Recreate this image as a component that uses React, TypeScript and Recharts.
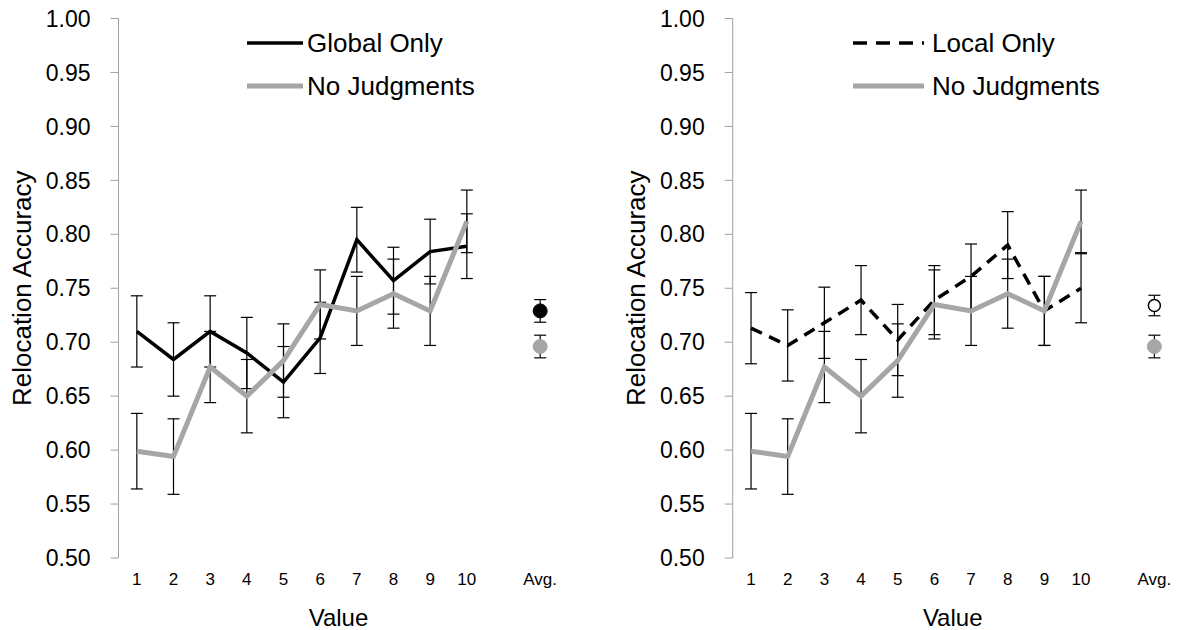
import React from 'react';
import { LineChart, Line, XAxis, YAxis, ErrorBar, Legend } from 'recharts';

const categories = ['1', '2', '3', '4', '5', '6', '7', '8', '9', '10', '', 'Avg.'];
const yTicks = [0.5, 0.55, 0.6, 0.65, 0.7, 0.75, 0.8, 0.85, 0.9, 0.95, 1.0];

const globalOnly = [0.71, 0.684, 0.71, 0.69, 0.663, 0.704, 0.795, 0.757, 0.784, 0.789];
const globalOnlyErr = [0.033, 0.034, 0.033, 0.033, 0.033, 0.033, 0.03, 0.031, 0.03, 0.03];
const globalOnlyAvg = 0.729;
const globalOnlyAvgErr = 0.0105;

const localOnly = [0.713, 0.697, 0.718, 0.739, 0.702, 0.739, 0.761, 0.79, 0.729, 0.75];
const localOnlyErr = [0.033, 0.033, 0.033, 0.032, 0.033, 0.032, 0.03, 0.031, 0.032, 0.032];
const localOnlyAvg = 0.734;
const localOnlyAvgErr = 0.0095;

const noJudgments = [0.599, 0.594, 0.677, 0.65, 0.683, 0.735, 0.729, 0.745, 0.729, 0.812];
const noJudgmentsErr = [0.035, 0.035, 0.033, 0.034, 0.034, 0.032, 0.032, 0.032, 0.032, 0.029];
const noJudgmentsAvg = 0.696;
const noJudgmentsAvgErr = 0.0105;

const FONT = '"Liberation Sans", Arial, sans-serif';
const AXIS = '#a0a0a0';
const GRAY = '#a6a6a6';

function buildRows(cond: number[], condErr: number[], condAvg: number, condAvgErr: number) {
  return categories.map((c, i) => ({
    x: i + 0.5,
    cond: i < cond.length ? cond[i] : null,
    condErr: i < cond.length ? condErr[i] : undefined,
    none: i < noJudgments.length ? noJudgments[i] : null,
    noneErr: i < noJudgments.length ? noJudgmentsErr[i] : undefined,
    condAvg: c === 'Avg.' ? condAvg : null,
    condAvgErr: c === 'Avg.' ? condAvgErr : undefined,
    noneAvg: c === 'Avg.' ? noJudgmentsAvg : null,
    noneAvgErr: c === 'Avg.' ? noJudgmentsAvgErr : undefined,
  }));
}

const gridTicks = categories.map((_, i) => i).concat(categories.length);
const labelTicks = categories.map((_, i) => i + 0.5);

// category label under each band
const CatTick = (props: any) => {
  const { x, y, payload } = props;
  return (
    <text x={x} y={y + 27} textAnchor="middle" fontSize={17} fontFamily={FONT} fill="#000">
      {categories[Math.floor(payload.value)]}
    </text>
  );
};

type PanelProps = {
  rows: any[];
  condName: string;
  dashed: boolean;
  openAvg: boolean;
  width: number;
  yWidth: number;
  right: number;
  legendLeft: number;
  sampleW: number;
  textGap: number;
};

function LegendBox({ items, sampleW, textGap }: { items: any[]; sampleW: number; textGap: number }) {
  return (
    <div style={{ fontFamily: FONT, fontSize: 26, color: '#000' }}>
      {items.map((it) => (
        <div key={it.name} style={{ display: 'flex', alignItems: 'center', height: 43 }}>
          <svg width={sampleW} height={10}>
            <line x1={0} y1={5} x2={sampleW} y2={5} stroke={it.color} strokeWidth={it.w} strokeDasharray={it.dash} />
          </svg>
          <span style={{ marginLeft: textGap, whiteSpace: 'nowrap' }}>{it.name}</span>
        </div>
      ))}
    </div>
  );
}

function Panel(p: PanelProps) {
  const condDash = p.dashed ? '12 8' : undefined;
  const items = [
    { name: p.condName, color: '#000', w: 3.5, dash: p.dashed ? '14 9' : undefined },
    { name: 'No Judgments', color: GRAY, w: 5, dash: undefined },
  ];
  return (
    <LineChart width={p.width} height={630} data={p.rows} margin={{ top: 18.5, right: p.right, bottom: 0, left: 0 }}>
      <XAxis
        xAxisId="grid"
        type="number"
        dataKey="x"
        domain={[0, 12]}
        ticks={gridTicks}
        interval={0}
        height={0}
        tickSize={5}
        tickFormatter={() => ''}
        axisLine={{ stroke: AXIS }}
        tickLine={{ stroke: AXIS }}
      />
      <XAxis
        xAxisId="lab"
        type="number"
        dataKey="x"
        domain={[0, 12]}
        ticks={labelTicks}
        interval={0}
        height={72}
        tickSize={0}
        tickMargin={0}
        axisLine={false}
        tickLine={false}
        tick={<CatTick />}
        label={{ value: 'Value', position: 'insideBottom', offset: 4, fill: '#000', fontSize: 24, fontFamily: FONT }}
      />
      <YAxis
        type="number"
        domain={[0.5, 1]}
        ticks={yTicks}
        interval={0}
        width={p.yWidth}
        tickSize={8}
        tickMargin={20}
        axisLine={{ stroke: AXIS }}
        tickLine={{ stroke: AXIS }}
        tick={{ fill: '#000', fontSize: 23, fontFamily: FONT }}
        tickFormatter={(v: number) => v.toFixed(2)}
        label={{
          content: (lp: any) => {
            const vb = lp.viewBox || { x: 0, y: 18.5, width: p.yWidth, height: 539 };
            const cx = vb.x + vb.width - 96.5;
            const cy = vb.y + vb.height / 2;
            return (
              <text
                x={cx}
                y={cy}
                transform={`rotate(-90, ${cx}, ${cy})`}
                textAnchor="middle"
                dominantBaseline="central"
                fontSize={26}
                fontFamily={FONT}
                fill="#000"
              >
                Relocation Accuracy
              </text>
            );
          },
        }}
      />
      <Legend
        layout="vertical"
        align="center"
        verticalAlign="middle"
        wrapperStyle={{ left: p.legendLeft, top: 21.5, width: 320 }}
        content={() => <LegendBox items={items} sampleW={p.sampleW} textGap={p.textGap} />}
      />
      <Line
        xAxisId="grid"
        dataKey="cond"
        stroke="#000"
        strokeWidth={3.5}
        strokeDasharray={condDash}
        dot={false}
        activeDot={false}
        isAnimationActive={false}
      >
        <ErrorBar dataKey="condErr" direction="y" width={6} stroke="#000" strokeWidth={1.2} />
      </Line>
      <Line
        xAxisId="grid"
        dataKey="none"
        stroke={GRAY}
        strokeWidth={5}
        dot={false}
        activeDot={false}
        isAnimationActive={false}
      >
        <ErrorBar dataKey="noneErr" direction="y" width={6} stroke="#000" strokeWidth={1.2} />
      </Line>
      <Line
        xAxisId="grid"
        dataKey="condAvg"
        stroke="none"
        dot={p.openAvg ? { r: 6, fill: '#fff', stroke: '#000', strokeWidth: 1.5 } : { r: 7, fill: '#000', stroke: '#000', strokeWidth: 1 }}
        activeDot={false}
        isAnimationActive={false}
      >
        <ErrorBar dataKey="condAvgErr" direction="y" width={6} stroke="#000" strokeWidth={1.2} />
      </Line>
      <Line
        xAxisId="grid"
        dataKey="noneAvg"
        stroke="none"
        dot={{ r: 7, fill: GRAY, stroke: GRAY, strokeWidth: 1 }}
        activeDot={false}
        isAnimationActive={false}
      >
        <ErrorBar dataKey="noneAvgErr" direction="y" width={6} stroke="#000" strokeWidth={1.2} />
      </Line>
    </LineChart>
  );
}

export default function App() {
  const leftRows = buildRows(globalOnly, globalOnlyErr, globalOnlyAvg, globalOnlyAvgErr);
  const rightRows = buildRows(localOnly, localOnlyErr, localOnlyAvg, localOnlyAvgErr);
  return (
    <div style={{ position: 'absolute', left: 0, top: 0, width: 1177, height: 630, background: '#fff', fontFamily: FONT }}>
      <div style={{ position: 'absolute', left: 0, top: 0 }}>
        <Panel
          rows={leftRows}
          condName="Global Only"
          dashed={false}
          openAvg={false}
          width={590}
          yWidth={118.5}
          right={31.5}
          legendLeft={247}
          sampleW={56}
          textGap={4}
        />
      </div>
      <div style={{ position: 'absolute', left: 590, top: 0 }}>
        <Panel
          rows={rightRows}
          condName="Local Only"
          dashed={true}
          openAvg={true}
          width={587}
          yWidth={142.7}
          right={4.3}
          legendLeft={263}
          sampleW={71}
          textGap={8}
        />
      </div>
    </div>
  );
}
